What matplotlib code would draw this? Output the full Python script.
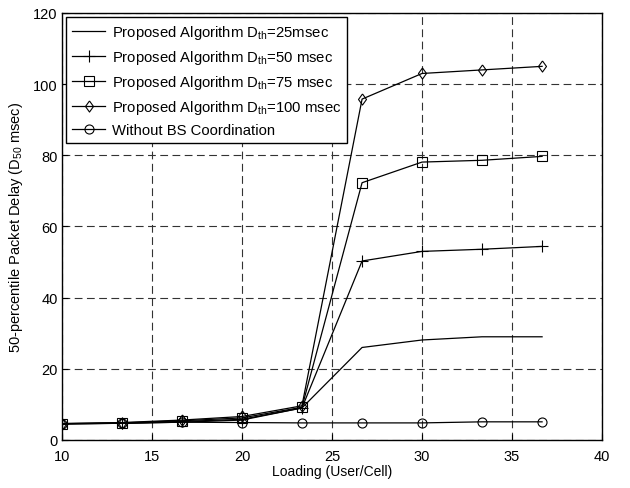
import matplotlib
matplotlib.use("Agg")
import matplotlib.pyplot as plt

# loading (users per cell)
loading = [10, 13.33, 16.67, 20, 23.33, 26.67, 30, 33.33, 36.67]

# 50-percentile packet delay (msec)
d_th_25 = [4.5, 4.7, 5.0, 5.6, 9.0, 26.0, 28.1, 29.0, 29.0]
d_th_50 = [4.5, 4.7, 5.2, 5.8, 9.0, 50.3, 53.0, 53.6, 54.4]
d_th_75 = [4.6, 4.8, 5.4, 6.2, 9.2, 72.3, 78.1, 78.6, 79.7]
d_th_100 = [4.6, 4.9, 5.6, 6.6, 9.6, 95.8, 103.0, 104.0, 105.0]
no_coord = [4.6, 4.7, 5.0, 4.9, 4.8, 4.8, 4.8, 5.1, 5.1]

plt.rcParams["font.family"] = ["Liberation Sans", "DejaVu Sans"]
plt.rcParams["mathtext.fontset"] = "custom"
plt.rcParams["mathtext.rm"] = "Liberation Sans"

fig = plt.figure(figsize=(6.3, 4.89), dpi=100)
ax = fig.add_axes([0.0984, 0.0982, 0.8572, 0.8732])

style = dict(color="black", linewidth=0.9, markerfacecolor="none",
             markeredgecolor="black", markeredgewidth=0.8)

# diamond a little wider than matplotlib's thin diamond
diamond = [(0, 1), (0.72, 0), (0, -1), (-0.72, 0), (0, 1)]

ax.plot(loading, d_th_25, label=r"Proposed Algorithm D$\mathregular{_{th}}$=25msec", **style)
ax.plot(loading, d_th_50, marker="+", markersize=8,
        label=r"Proposed Algorithm D$\mathregular{_{th}}$=50 msec", **style)
ax.plot(loading, d_th_75, marker="s", markersize=6.5,
        label=r"Proposed Algorithm D$\mathregular{_{th}}$=75 msec", **style)
ax.plot(loading, d_th_100, marker=diamond, markersize=8,
        label=r"Proposed Algorithm D$\mathregular{_{th}}$=100 msec", **style)
ax.plot(loading, no_coord, marker="o", markersize=6.5,
        label="Without BS Coordination", **style)

ax.set_xlim(10, 40)
ax.set_ylim(0, 120)
ax.set_xticks(range(10, 41, 5))
ax.set_yticks(range(0, 121, 20))
ax.tick_params(direction="in", labelsize=10.5, length=4, colors="black")
ax.tick_params(axis="x", pad=6.5)
ax.tick_params(axis="y", pad=3)
ax.grid(True, linestyle=(0, (7, 4)), color="#333333", linewidth=0.8)
for s in ax.spines.values():
    s.set_linewidth(1.0)
    s.set_color("black")

ax.set_xlabel("Loading (User/Cell)", fontsize=10, labelpad=1)
ax.set_ylabel(r"50-percentile Packet Delay (D$\mathregular{_{50}}$ msec)", fontsize=10.5, labelpad=6)

leg = ax.legend(loc="upper left", fontsize=10.7, frameon=True, fancybox=False,
                borderpad=0.4, labelspacing=0.46, handlelength=2.2,
                handletextpad=0.45, borderaxespad=0.3)
leg.get_frame().set_edgecolor("black")
leg.get_frame().set_linewidth(1.0)
leg.get_frame().set_alpha(1.0)

fig.savefig("out.png", dpi=100)
